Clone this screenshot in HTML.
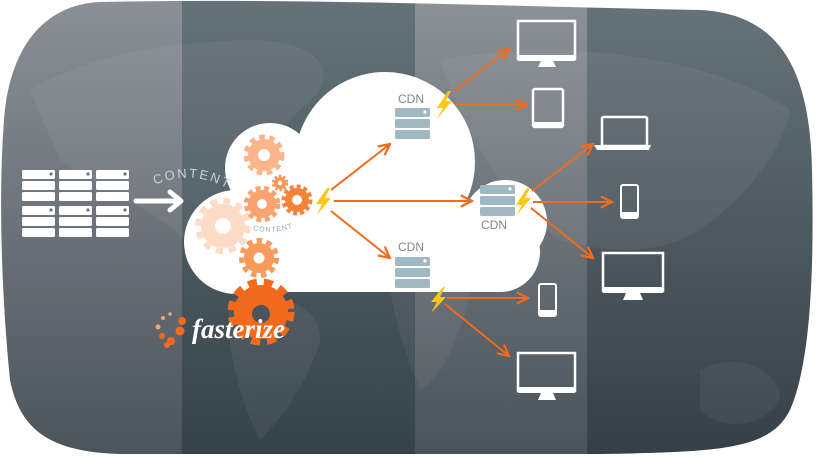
<!DOCTYPE html>
<html><head><meta charset="utf-8"><style>
html,body{margin:0;padding:0;background:#fff;}
svg{display:block;}
</style></head><body>
<svg width="816" height="457" viewBox="0 0 816 457" xmlns="http://www.w3.org/2000/svg" font-family="Liberation Sans, sans-serif">
<defs>
<clipPath id="blob">
<path d="M100,2 C300,-2 500,6 700,10 C780,14 810,70 812,170 C814,260 812,360 790,410 C770,450 720,452 600,454 L120,454 C50,452 20,430 10,380 C2,300 -2,200 4,120 C10,40 50,4 100,2 Z"/>
</clipPath>
<linearGradient id="g1" x1="0" y1="0" x2="0" y2="1"><stop offset="0" stop-color="#8a9096"/><stop offset="1" stop-color="#4c545b"/></linearGradient>
<linearGradient id="g2" x1="0" y1="0" x2="0" y2="1"><stop offset="0" stop-color="#66727a"/><stop offset="1" stop-color="#36424a"/></linearGradient>
<linearGradient id="g3" x1="0" y1="0" x2="0" y2="1"><stop offset="0" stop-color="#8b9197"/><stop offset="1" stop-color="#4a535a"/></linearGradient>
<linearGradient id="g4" x1="0" y1="0" x2="0" y2="1"><stop offset="0" stop-color="#67737b"/><stop offset="1" stop-color="#353f47"/></linearGradient>
<marker id="ah" viewBox="0 0 10 10" refX="9" refY="5" markerWidth="7" markerHeight="7" orient="auto"><path d="M1,1 L9,5 L1,9" fill="none" stroke="#f26b1d" stroke-width="1.6"/></marker>
</defs>
<g clip-path="url(#blob)">
<rect x="0" y="0" width="183" height="457" fill="url(#g1)"/>
<rect x="182" y="0" width="234" height="457" fill="url(#g2)"/>
<rect x="415" y="0" width="173" height="457" fill="url(#g3)"/>
<rect x="587" y="0" width="229" height="457" fill="url(#g4)"/>
<g fill="#fff" opacity="0.05">
<path d="M30,90 C80,60 160,40 260,40 C330,45 340,80 300,110 C260,150 230,200 200,260 C180,220 120,200 60,160 Z"/>
<path d="M230,300 C270,290 320,300 320,340 C310,380 280,420 260,440 C240,400 225,350 230,300 Z"/>
<path d="M390,220 C440,210 480,230 470,290 C460,340 440,380 420,390 C400,340 380,280 390,220 Z"/>
<path d="M440,60 C550,40 700,50 790,110 C780,160 740,200 700,230 C650,260 600,250 560,240 C500,200 460,120 440,60 Z"/>
<path d="M700,370 C740,350 780,370 780,400 C760,430 720,430 700,410 Z"/>
</g>
</g>

<!-- cloud -->
<g fill="#fff">
<circle cx="385" cy="162" r="90"/>
<circle cx="270" cy="168" r="45"/>
<circle cx="236" cy="242" r="52"/>
<circle cx="505" cy="222" r="42"/>
<circle cx="500" cy="252" r="40"/>
<rect x="236" y="200" width="264" height="92"/>
<rect x="300" y="160" width="160" height="60"/>
</g>

<!-- left servers -->
<g fill="#fff">
<g id="srv">
<rect x="22" y="170" width="33" height="9" rx="1.5"/>
<rect x="22" y="181" width="33" height="9" rx="1.5"/>
<rect x="22" y="192" width="33" height="9" rx="1.5"/>
</g>
<use href="#srv" x="37"/><use href="#srv" x="74"/>
<use href="#srv" y="36"/><use href="#srv" x="37" y="36"/><use href="#srv" x="74" y="36"/>
</g>
<g fill="#6b747b">
<circle cx="51" cy="174" r="1.6"/><circle cx="88" cy="174" r="1.6"/><circle cx="125" cy="174" r="1.6"/>
<circle cx="51" cy="210" r="1.6"/><circle cx="88" cy="210" r="1.6"/><circle cx="125" cy="210" r="1.6"/>
</g>
<path d="M136,201 H180 M170,192 L181,201 L170,210" fill="none" stroke="#fff" stroke-width="5" stroke-linecap="round" stroke-linejoin="round"/>

<path id="cp1" d="M155,185 Q200,165 245,200" fill="none"/>
<text font-size="13" fill="#c5d0d5" letter-spacing="2"><textPath href="#cp1">CONTENT</textPath></text>
<path id="cp2" d="M253,230 Q280,236 305,222" fill="none"/>
<text font-size="7" fill="#9aa4a8" letter-spacing="1"><textPath href="#cp2">CONTENT</textPath></text>

<!-- gears -->
<g>
<circle cx="223" cy="226" r="22" fill="#fcdcc6"/><circle cx="223" cy="226" r="25" fill="none" stroke="#fcdcc6" stroke-width="6" stroke-dasharray="7 6.1"/><circle cx="223" cy="226" r="8" fill="#fff"/>
<circle cx="264" cy="155" r="16" fill="#fbb58a"/><circle cx="264" cy="155" r="18" fill="none" stroke="#fbb58a" stroke-width="5" stroke-dasharray="5.5 4.5"/><circle cx="264" cy="155" r="6" fill="#fff"/>
<circle cx="280" cy="183" r="6" fill="#f7955a"/><circle cx="280" cy="183" r="7" fill="none" stroke="#f7955a" stroke-width="2.5" stroke-dasharray="2.5 2"/><circle cx="280" cy="183" r="2.2" fill="#fff"/>
<circle cx="262" cy="204" r="14" fill="#f9a470"/><circle cx="262" cy="204" r="16" fill="none" stroke="#f9a470" stroke-width="4.5" stroke-dasharray="5 3.6"/><circle cx="262" cy="204" r="5" fill="#fff"/>
<circle cx="297" cy="200" r="12" fill="#f4823a"/><circle cx="297" cy="200" r="13.5" fill="none" stroke="#f4823a" stroke-width="4" stroke-dasharray="4 3"/><circle cx="297" cy="200" r="5" fill="#fff"/>
<circle cx="259" cy="258" r="15" fill="#f79a5c"/><circle cx="259" cy="258" r="17.5" fill="none" stroke="#f79a5c" stroke-width="5" stroke-dasharray="5.5 4.5"/><circle cx="259" cy="258" r="5.5" fill="#fff"/>
<circle cx="261" cy="312" r="27" fill="#f26b1d"/><circle cx="261" cy="312" r="30" fill="none" stroke="#f26b1d" stroke-width="7" stroke-dasharray="9 7"/><circle cx="261" cy="314" r="9" fill="#4a555d"/>
</g>

<g fill="#f26b1d">
<circle cx="158" cy="327" r="2.5" fill="#f9a470"/><circle cx="163" cy="318" r="2" fill="#f9a470"/><circle cx="170" cy="314" r="1.8" fill="#f9a470"/>
<circle cx="162" cy="336" r="3"/><circle cx="171" cy="341" r="4"/><circle cx="180" cy="331" r="4.5"/><circle cx="182" cy="321" r="4"/><circle cx="167" cy="345" r="3"/>
</g>
<text x="192" y="338" font-family="Liberation Serif, serif" font-style="italic" font-weight="bold" font-size="27" fill="#fff">fasterize</text>

<g fill="#9fb8c2">
<rect x="395" y="108" width="35" height="9" rx="1.5"/><rect x="395" y="119" width="35" height="9" rx="1.5"/><rect x="395" y="130" width="35" height="9" rx="1.5"/>
<rect x="480" y="185" width="35" height="9" rx="1.5"/><rect x="480" y="196" width="35" height="9" rx="1.5"/><rect x="480" y="207" width="35" height="9" rx="1.5"/>
<rect x="395" y="257" width="35" height="9" rx="1.5"/><rect x="395" y="268" width="35" height="9" rx="1.5"/><rect x="395" y="279" width="35" height="9" rx="1.5"/>
</g>
<g fill="#fff"><circle cx="425" cy="112" r="1.6"/><circle cx="510" cy="189" r="1.6"/><circle cx="425" cy="261" r="1.6"/></g>
<g font-size="12" fill="#7d878c">
<text x="398" y="103">CDN</text><text x="481" y="229">CDN</text><text x="398" y="251">CDN</text>
</g>

<g stroke="#f26b1d" stroke-width="2" fill="none" marker-end="url(#ah)">
<line x1="331" y1="190" x2="390" y2="144"/>
<line x1="334" y1="201" x2="472" y2="201"/>
<line x1="331" y1="211" x2="390" y2="258"/>
<line x1="455" y1="91" x2="509" y2="49"/>
<line x1="455" y1="105" x2="527" y2="105"/>
<line x1="532" y1="191" x2="593" y2="144"/>
<line x1="533" y1="202" x2="612" y2="202"/>
<line x1="531" y1="208" x2="593" y2="258"/>
<line x1="447" y1="298" x2="528" y2="298"/>
<line x1="445" y1="304" x2="509" y2="356"/>
</g>

<g fill="#fdc814">
<path d="M327,188 L316,204 L322,204 L317,215 L331,198 L325,198 L330,188 Z"/>
<path d="M448,91 L437,108 L443,108 L437,119 L452,101 L446,101 L451,91 Z"/>
<path d="M527,188 L516,205 L522,205 L516,216 L531,198 L525,198 L530,188 Z"/>
<path d="M443,287 L431,302 L437,302 L431,313 L446,297 L440,297 L445,287 Z"/>
</g>

<g fill="none" stroke="#fff">
<rect x="518" y="21" width="57" height="38" stroke-width="2.5"/>
<rect x="533" y="89" width="30" height="38" rx="2" stroke-width="2.5"/>
<rect x="602" y="117" width="45" height="29" rx="1.5" stroke-width="2.5"/>
<rect x="621" y="185" width="17" height="33" rx="2" stroke-width="2"/>
<rect x="603" y="253" width="60" height="38" stroke-width="2.5"/>
<rect x="539" y="284" width="17" height="32" rx="2" stroke-width="2"/>
<rect x="518" y="353" width="57" height="38" stroke-width="2.5"/>
</g>
<g fill="#fff">
<rect x="518" y="55" width="57" height="6"/><path d="M541,61 H553 L556,67 H538 Z"/>
<rect x="518" y="387" width="57" height="6"/><path d="M541,393 H553 L556,400 H538 Z"/>
<rect x="603" y="287" width="60" height="6"/><path d="M626,293 H640 L643,300 H623 Z"/>
<path d="M594,145 H651 L649,150 H597 Z"/>
<rect x="621" y="212" width="17" height="6"/><rect x="539" y="310" width="17" height="6"/>
<rect x="533" y="122" width="30" height="5"/>
</g>
</svg>
</body></html>
